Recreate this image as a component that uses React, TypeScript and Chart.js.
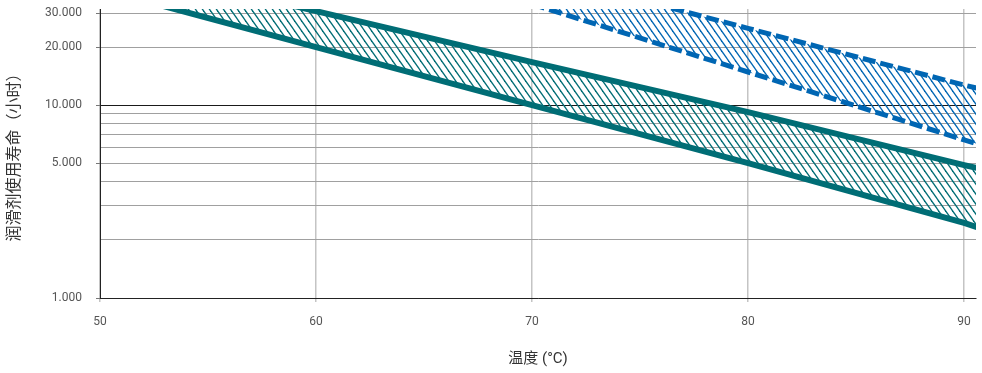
import React, { useEffect, useRef } from 'react';
import { Chart, registerables } from 'chart.js';

Chart.register(...registerables);

// ---- data ----
const greenTemps = [50, 60, 70, 80, 90, 90.6];
const greenLower = [40000, 20000, 10000, 5000, 2450, 2330];
const greenUpper = [56600, 30700, 16700, 9200, 4890, 4720];

const blueTemps = [70, 80, 90, 90.6];
const blueLower = [33400, 14850, 6600, 6300];
const blueUpper = [49300, 25000, 12700, 12250];

const xTickValues = [50, 60, 70, 80, 90];
const yGridValues = [1000, 2000, 3000, 4000, 5000, 6000, 7000, 8000, 9000, 10000, 20000, 30000];
const yLabelValues = [1000, 5000, 10000, 20000, 30000];

const xTitle = '温度 (°C)';
const yTitle = '润滑剂使用寿命（小时）';

const TEAL = '#006d75';
const BLUE = '#0066b3';
const FONT = "Roboto, 'Noto Sans CJK SC', sans-serif";

function fmt(v: number): string {
  return String(v).replace(/\B(?=(\d{3})+(?!\d))/g, '.');
}

function makeHatch(color: string): CanvasPattern | string {
  const w = 7;
  const h = 10;
  const c = document.createElement('canvas');
  c.width = w;
  c.height = h;
  const ctx = c.getContext('2d');
  if (!ctx) return color;
  ctx.strokeStyle = color;
  ctx.lineWidth = 1.3;
  for (const dx of [-w, 0, w]) {
    ctx.beginPath();
    ctx.moveTo(dx - w, -h);
    ctx.lineTo(dx + 2 * w, 2 * h);
    ctx.stroke();
  }
  return ctx.createPattern(c, 'repeat') || color;
}

function pts(xs: number[], ys: number[]) {
  return xs.map((x, i) => ({ x, y: ys[i] }));
}

export default function App() {
  const ref = useRef<HTMLCanvasElement>(null);

  useEffect(() => {
    const canvas = ref.current;
    if (!canvas) return;
    const greenHatch = makeHatch(TEAL);
    const blueHatch = makeHatch(BLUE);

    const chart = new Chart(canvas, {
      type: 'line',
      data: {
        datasets: [
          {
            data: pts(greenTemps, greenLower),
            borderColor: TEAL,
            borderWidth: 6,
            pointRadius: 0,
            fill: false,
            clip: 0,
          },
          {
            data: pts(greenTemps, greenUpper),
            borderColor: TEAL,
            borderWidth: 6,
            pointRadius: 0,
            fill: '-1',
            backgroundColor: greenHatch as any,
            clip: 0,
          },
          {
            data: pts(blueTemps, blueLower),
            borderColor: BLUE,
            borderWidth: 5,
            borderDash: [13, 5],
            pointRadius: 0,
            fill: false,
            clip: 0,
          },
          {
            data: pts(blueTemps, blueUpper),
            borderColor: BLUE,
            borderWidth: 5,
            borderDash: [13, 5],
            pointRadius: 0,
            fill: '-1',
            backgroundColor: blueHatch as any,
            clip: 0,
          },
        ] as any,
      },
      options: {
        responsive: false,
        animation: false,
        devicePixelRatio: 1,
        layout: { padding: { top: 9, right: 6, left: 0, bottom: 0 } },
        plugins: {
          legend: { display: false },
          tooltip: { enabled: false },
        },
        elements: { line: { tension: 0 } },
        scales: {
          x: {
            type: 'linear',
            min: 50,
            max: 90.55,
            afterBuildTicks: (scale: any) => {
              scale.ticks = xTickValues.map((v) => ({ value: v }));
            },
            afterFit: (scale: any) => {
              scale.height = 75;
              scale.paddingLeft = 0;
              scale.paddingRight = 0;
            },
            ticks: {
              autoSkip: false,
              maxRotation: 0,
              padding: 13,
              color: '#555',
              font: { family: FONT, size: 12 },
              callback: (v: any) => String(v),
            },
            grid: {
              color: '#c4c4c4',
              lineWidth: 1.5,
              tickLength: 4,
              tickColor: '#c4c4c4',
            },
            border: { color: '#222', width: 1 },
            title: {
              display: true,
              text: xTitle,
              color: '#333',
              font: { family: FONT, size: 15 },
              padding: { top: 0, bottom: 5 },
            },
          },
          y: {
            type: 'logarithmic',
            min: 1000,
            max: 31500,
            afterBuildTicks: (scale: any) => {
              scale.ticks = yGridValues.map((v) => ({ value: v }));
            },
            afterFit: (scale: any) => {
              scale.width = 100;
              scale.paddingTop = 0;
              scale.paddingBottom = 0;
            },
            ticks: {
              autoSkip: false,
              padding: 14,
              color: '#555',
              font: { family: FONT, size: 12 },
              callback: (v: any) => (yLabelValues.includes(Number(v)) ? fmt(Number(v)) : ''),
            },
            grid: {
              color: (ctx: any) => (ctx.tick && ctx.tick.value === 10000 ? '#1a1a1a' : '#a0a0a0'),
              lineWidth: 1,
              tickLength: 4,
              tickColor: (ctx: any) =>
                ctx.tick && yLabelValues.includes(ctx.tick.value) ? '#777' : 'rgba(0,0,0,0)',
            },
            border: { color: '#222', width: 1 },
            title: {
              display: true,
              text: yTitle,
              color: '#333',
              font: { family: FONT, size: 16 },
              padding: { top: 5, bottom: 0 },
            },
          },
        },
      } as any,
    });

    return () => chart.destroy();
  }, []);

  return (
    <div style={{ position: 'absolute', left: 0, top: 0, width: 982, height: 373, background: '#fff' }}>
      <canvas ref={ref} width={982} height={373} style={{ display: 'block', width: 982, height: 373 }} />
    </div>
  );
}
